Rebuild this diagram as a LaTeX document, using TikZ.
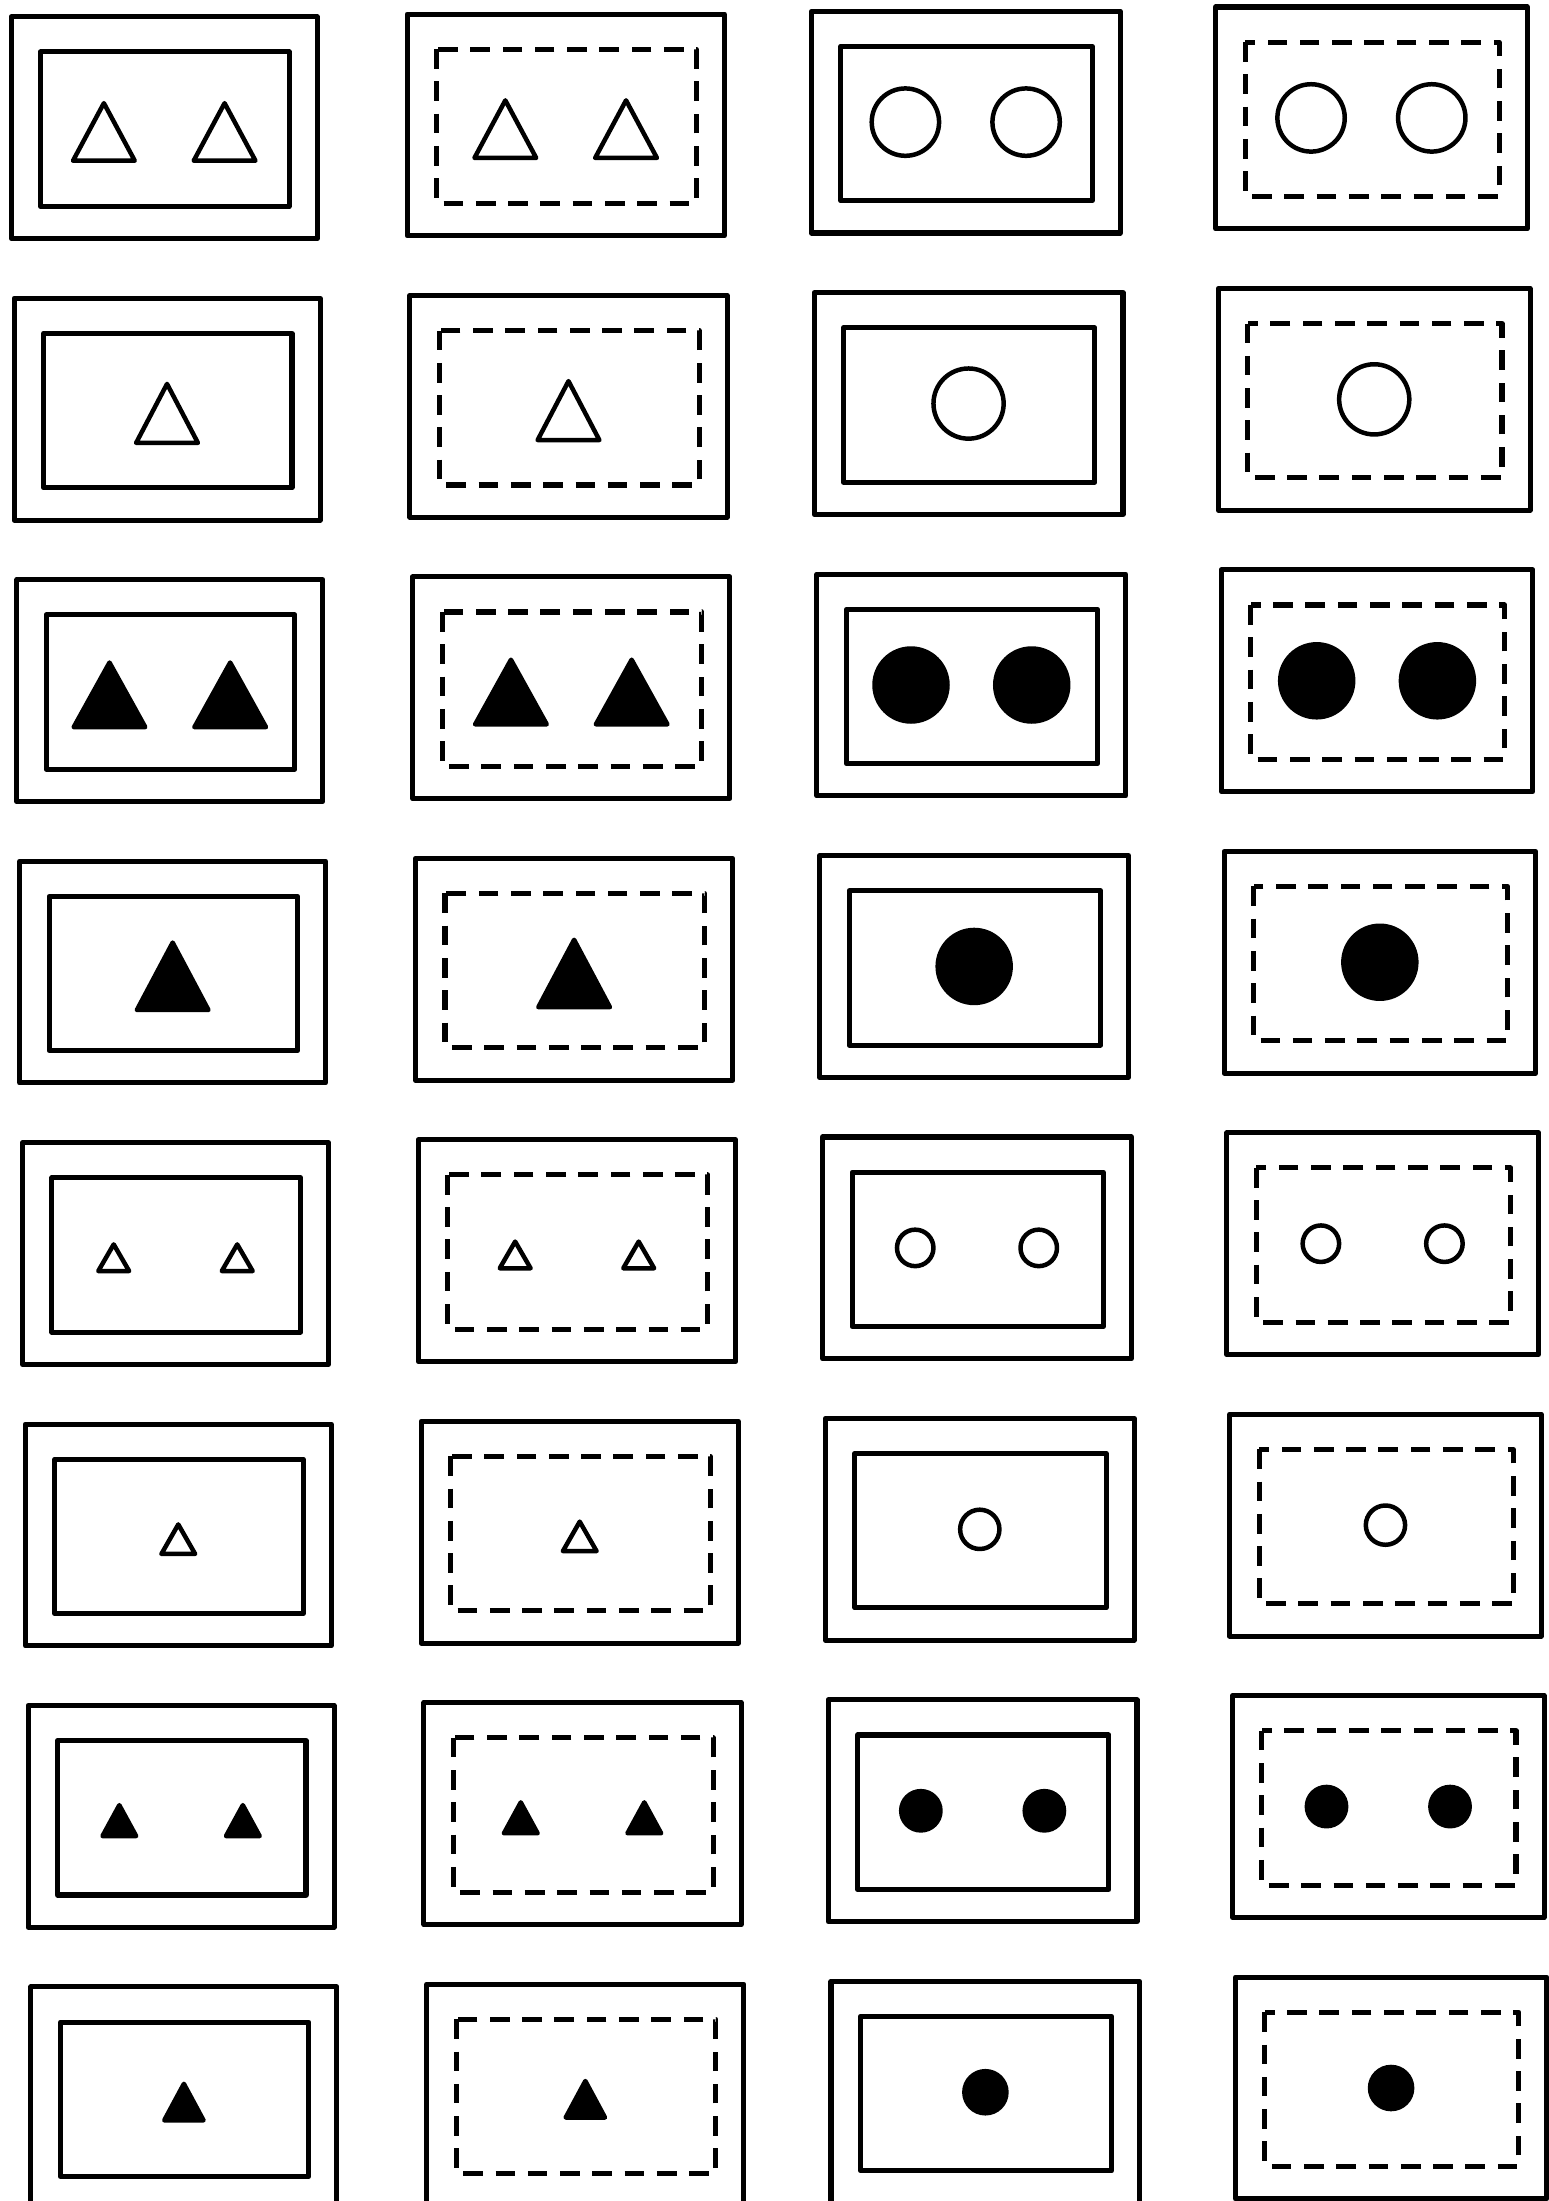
\documentclass[tikz,border=0pt]{standalone}
\begin{document}
\begin{tikzpicture}[x=1pt,y=-1pt,line width=3.6pt,line join=round,
  solidbox/.style={draw},
  dashbox/.style={draw,dash pattern=on 14pt off 9pt},
  shapefig/.style={draw,line width=3.2pt,fill=#1}]
  \useasboundingbox (0,0) rectangle (1103,1568);
  % rows: triangle width/height, circle radius, fill, shape offsets
  \foreach \r/\tw/\th/\cr/\fil/\offs in {0/44/41/24/white/{-43,43}, 1/44/42/25/white/{0},
      2/51/46/26/black/{-43,43}, 3/51/48/26/black/{0},
      4/22/19/13/white/{-44,44}, 5/24/21/14/white/{0},
      6/24/22/14/black/{-44,44}, 7/28/26/15/black/{0}} {
    % columns: left edge, width, vertical shift
    \foreach \c/\xs/\wd/\dy in {0/8/218/0, 1/290/226/-2, 2/578/220/-4, 3/866/222/-7} {
      \pgfmathsetmacro\xl{\xs+2*\r}
      \pgfmathsetmacro\yt{12+200.5*\r+\dy}
      \pgfmathsetmacro\xr{\xl+\wd}
      \pgfmathsetmacro\yb{\yt+158}
      \pgfmathsetmacro\xm{(\xl+\xr)/2}
      \pgfmathsetmacro\ym{\yt+79}
      \ifodd\c \def\innerstyle{dashbox}\else\def\innerstyle{solidbox}\fi
      \draw (\xl,\yt) rectangle (\xr,\yb);
      \draw[\innerstyle] (\xl+21,\yt+25) rectangle (\xr-20,\yb-23);
      \foreach \o in \offs {
        \ifnum\c<2
          \draw[shapefig=\fil] (\xm+\o-\tw/2,\ym+3+\th/2) -- (\xm+\o,\ym+3-\th/2)
            -- (\xm+\o+\tw/2,\ym+3+\th/2) -- cycle;
        \else
          \draw[shapefig=\fil] (\xm+\o,\ym) circle[radius=\cr];
        \fi
      }
    }
  }
\end{tikzpicture}
\end{document}
